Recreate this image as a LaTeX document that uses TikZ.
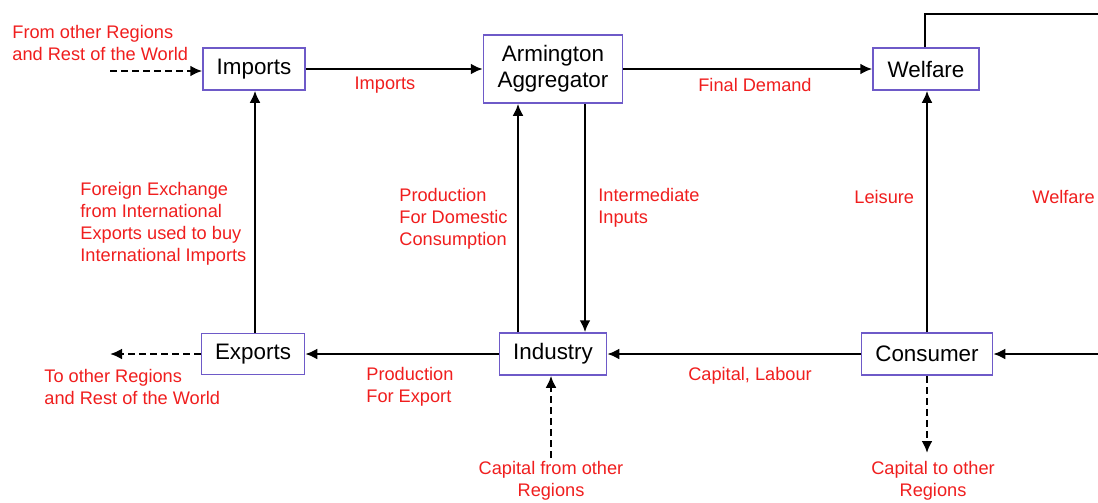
\documentclass[tikz,border=0pt]{standalone}
\usepackage{fontspec}
\setmainfont{Liberation Sans}
\usetikzlibrary{arrows.meta}
\definecolor{boxline}{RGB}{110,90,200}
\definecolor{lblred}{RGB}{240,30,30}
\tikzset{
  box/.style={draw=boxline, line width=0.75pt, fill=white, inner sep=0pt, align=center,
    font=\fontsize{11.2pt}{12.8pt}\selectfont},
  lbl/.style={text=lblred, inner sep=0pt, font=\fontsize{9.1pt}{11pt}\selectfont},
  flow/.style={line width=1.4pt, -{Latex[length=6pt,width=5.5pt]}},
  ext/.style={flow, dash pattern=on 3.5pt off 2pt},
}
\begin{document}
\begin{tikzpicture}[x=0.5pt,y=-0.5pt]
\useasboundingbox (0,0) rectangle (1098,503);
\fill[white] (0,0) rectangle (1098,503);
% boxes
\node[box, minimum width=51pt, minimum height=21pt] (imp) at (254,69) {Imports};
\node[box, minimum width=69.5pt, minimum height=34pt] (arm) at (553,69) {Armington\\Aggregator};
\node[box, minimum width=53pt, minimum height=21pt] (wel) at (926,69) {Welfare};
\node[box, minimum width=51.5pt, minimum height=20.5pt] (exp) at (253,354) {Exports};
\node[box, minimum width=53.5pt, minimum height=21pt] (ind) at (553,354) {Industry};
\node[box, minimum width=65.5pt, minimum height=21pt] (con) at (927,354) {Consumer};
% free ends
\coordinate (fromw) at (110,71);
\coordinate (tow) at (110,354);
\coordinate (capin) at (551,458);
\coordinate (capout) at (927,453);
\coordinate (wtop) at (1110,14);
% connectors
\draw[ext] (fromw) -- (fromw -| imp.west);
\draw[flow] (imp.east) -- (imp.east -| arm.west);
\draw[flow] (arm.east) -- (arm.east -| wel.west);
\draw[flow] (exp.north -| 255,0) -- (imp.south -| 255,0);
\draw[flow] (ind.north -| 518,0) -- (arm.south -| 518,0);
\draw[flow] (arm.south -| 585,0) -- (ind.north -| 585,0);
\draw[flow] (con.north) -- (wel.south -| con.north);
\draw[flow] (wel.north -| 925,0) |- (wtop) |- (con.east);
\draw[flow] (ind.west) -- (exp.east);
\draw[flow] (con.west) -- (ind.east);
\draw[ext] (exp.west) -- (tow);
\draw[ext] (capin) -- (ind.south -| capin);
\draw[ext] (con.south) -- (capout);
% labels
\node[lbl, anchor=west, align=left] (l1) at (12,43) {From other Regions\\and Rest of the World};
\node[lbl] (l2) at (385,85) {Imports};
\node[lbl] (l3) at (755,85) {Final Demand};
\node[lbl, anchor=west, align=left] (l4) at (80,224) {Foreign Exchange\\from International\\Exports used to buy\\International Imports};
\node[lbl, anchor=west, align=left] (l5) at (399,219) {Production\\For Domestic\\Consumption};
\node[lbl, anchor=west, align=left] (l6) at (598,208) {Intermediate\\Inputs};
\node[lbl, anchor=west] (l7) at (854,197) {Leisure};
\node[lbl, anchor=west] (l8) at (1032,197) {Welfare};
\node[lbl, anchor=west, align=left] (l9) at (44,387) {To other Regions\\and Rest of the World};
\node[lbl, anchor=west, align=left] (l10) at (366,387) {Production\\For Export};
\node[lbl] (l11) at (750,376) {Capital, Labour};
\node[lbl, align=center] (l12) at (551,481) {Capital from other\\Regions};
\node[lbl, align=center] (l13) at (933,481) {Capital to other\\Regions};
\end{tikzpicture}
\end{document}
